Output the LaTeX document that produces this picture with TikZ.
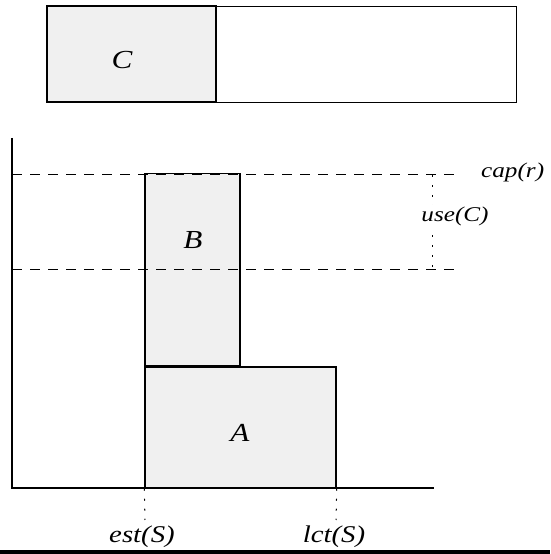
\documentclass[tikz,border=0pt]{standalone}
\usepackage{fontspec}
\setmainfont{Liberation Serif}
\newfontfamily\lblfont[FakeStretch=1.2]{Liberation Serif}
\usetikzlibrary{positioning}
\definecolor{boxfill}{HTML}{F0F0F0}

\begin{document}
\begin{tikzpicture}[x=1pt,y=1pt,
  box/.style={draw,line width=1.5pt,fill=boxfill,inner sep=0pt},
  lbl/.style={font=\lblfont\itshape\fontsize{21}{24}\selectfont,inner sep=1pt},
  axislbl/.style={font=\lblfont\itshape\fontsize{24}{28}\selectfont,inner sep=1pt},
  big/.style={font=\lblfont\itshape\fontsize{26}{30}\selectfont},
  guide/.style={dash pattern=on 10pt off 8pt,line width=1pt},
  tick/.style={dash pattern=on 2pt off 8pt,line width=1pt}]
  \useasboundingbox (0,0) rectangle (550,554);
  \fill (0,0) rectangle (550,4);
  % resource strip with C
  \node[draw,line width=.9pt,minimum width=300pt,minimum height=96pt,inner sep=0pt] (strip) at (366,500) {};
  \node[box,minimum width=169pt,minimum height=96pt] (Cbox) at (131.5,500) {};
  \node[big] (C) at (122,494) {C};
  % profile
  \node[box,minimum width=191pt,minimum height=121pt] (Abox) at (240.5,126.5) {};
  \node[box,minimum width=95pt,minimum height=192pt,anchor=south west] (Bbox) at (Abox.north west) {};
  \node[big] (A) at (240,121) {A};
  \node[big] (B) at (193,314) {B};
  % axes
  \coordinate (O) at (12,66);
  \coordinate (ytop) at (12,416);
  \coordinate (xend) at (434,66);
  % levels
  \coordinate (capend) at (458,379);
  \coordinate (usestart) at (12,284);
  \coordinate (useend) at (458,284);
  \draw[guide] (O |- capend) -- (capend);
  \draw[guide] (usestart) -- (useend);
  \node[lbl,anchor=west] (cap) at (480,382) {cap(r)};
  \coordinate (mtop) at (432,379);
  \coordinate (mbot) at (432,284);
  \draw[tick] (mtop) -- (mbot);
  \node[lbl,fill=white] (use) at (455,338) {use(C)};
  % window
  \coordinate (estend) at (145,34);
  \coordinate (lctend) at (336,34);
  \draw[tick] (Abox.south west) -- (estend);
  \draw[tick] (Abox.south east) -- (lctend);
  \node[axislbl] (est) at (142,17) {est(S)};
  \node[axislbl] (lct) at (334,17) {lct(S)};
  \draw[line width=1.8pt] (ytop) -- (O) -- (xend);
\end{tikzpicture}
\end{document}
